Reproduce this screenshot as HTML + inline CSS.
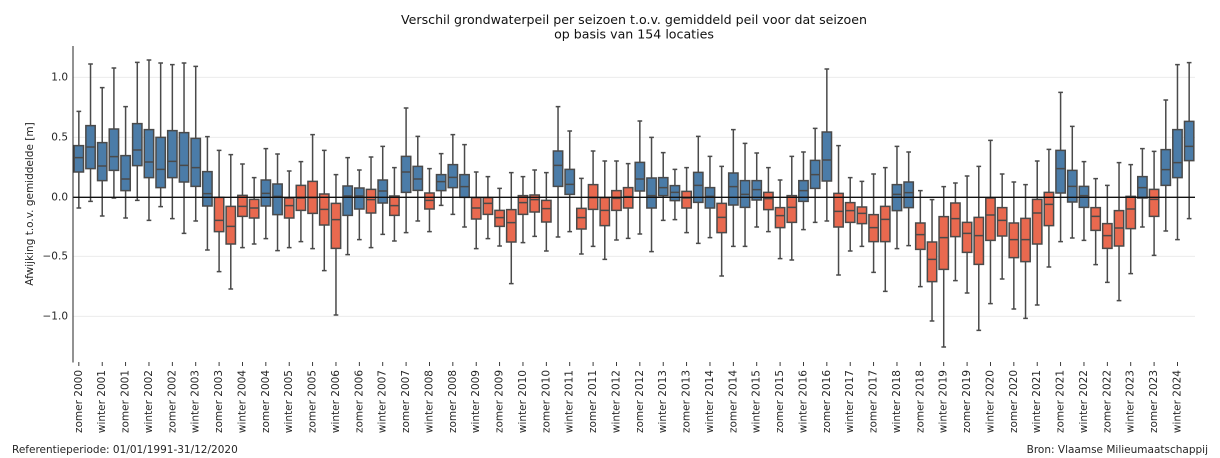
<!DOCTYPE html>
<html><head><meta charset="utf-8">
<style>
html,body{margin:0;padding:0;background:#fff;}
svg{display:block;}
text{font-family:"DejaVu Sans","Liberation Sans",sans-serif;fill:#262626;}
.bx{fill:#4b7ca8;stroke:#4a4a4a;stroke-width:1.5;vector-effect:non-scaling-stroke;}
.rx{fill:#e9694f;stroke:#4a4a4a;stroke-width:1.5;vector-effect:non-scaling-stroke;}
.ln{fill:none;stroke:#4a4a4a;stroke-width:1.5;vector-effect:non-scaling-stroke;}
</style></head><body>
<svg width="1220" height="458" viewBox="0 0 1220 458" xmlns="http://www.w3.org/2000/svg">
<rect width="1220" height="458" fill="#fff"/>
<!-- grid -->
<g stroke="#e8e8e8" stroke-width="0.9">
<line x1="73" x2="1195" y1="77.33" y2="77.33"/>
<line x1="73" x2="1195" y1="137.33" y2="137.33"/>
<line x1="73" x2="1195" y1="256.33" y2="256.33"/>
<line x1="73" x2="1195" y1="316.33" y2="316.33"/>
</g>
<!-- boxes: x in box index units, y in zoom units -->
<g transform="translate(73,44) scale(11.6875,0.333333)">
<path class="bx" d="M0.1 305H0.9V384H0.1Z M1.1 245H1.9V374H1.1Z M2.1 296H2.9V410H2.1Z M3.1 255H3.9V379H3.1Z M4.1 335H4.9V440H4.1Z M5.1 239H5.9V365H5.1Z M6.1 257H6.9V401H6.1Z M7.1 280H7.9V431H7.1Z M8.1 260H8.9V401H8.1Z M9.1 266H9.9V414H9.1Z M10.1 283H10.9V427H10.1Z M11.1 383H11.9V486H11.1Z M16.1 408H16.9V486H16.1Z M17.1 420H17.9V512H17.1Z M23.1 426H23.9V514H23.1Z M24.1 432H24.9V495H24.1Z M26.1 408H26.9V477H26.1Z M28.1 337H28.9V445H28.1Z M29.1 367H29.9V439H29.1Z M31.1 392H31.9V440H31.1Z M32.1 362H32.9V431H32.1Z M33.1 392H33.9V460H33.1Z M41.1 321H41.9V427H41.1Z M42.1 376H42.9V451H42.1Z M48.1 355H48.9V441H48.1Z M49.1 402H49.9V492H49.1Z M50.1 401H50.9V455H50.1Z M51.1 425H51.9V470H51.1Z M53.1 385H53.9V475H53.1Z M54.1 431H54.9V492H54.1Z M56.1 387H56.9V483H56.1Z M57.1 410H57.9V490H57.1Z M58.1 410H58.9V468H58.1Z M62.1 410H62.9V472H62.1Z M63.1 349H63.9V433H63.1Z M64.1 264H64.9V411H64.1Z M70.1 422H70.9V500H70.1Z M71.1 414H71.9V491H71.1Z M84.1 319H84.9V447H84.1Z M85.1 379H85.9V474H85.1Z M86.1 427H86.9V490H86.1Z M91.1 398H91.9V462H91.1Z M93.1 317H93.9V424H93.1Z M94.1 257H94.9V401H94.1Z M95.1 232H95.9V350H95.1Z"/>
<path class="rx" d="M12.1 460H12.9V563H12.1Z M13.1 487H13.9V600H13.1Z M14.1 454H14.9V517H14.1Z M15.1 466H15.9V522H15.1Z M18.1 462H18.9V522H18.1Z M19.1 424H19.9V499H19.1Z M20.1 412H20.9V508H20.1Z M21.1 450H21.9V543H21.1Z M22.1 478H22.9V613H22.1Z M25.1 436H25.9V507H25.1Z M27.1 456H27.9V514H27.1Z M30.1 447H30.9V495H30.1Z M34.1 461H34.9V525H34.1Z M35.1 461H35.9V511H35.1Z M36.1 499H36.9V547H36.1Z M37.1 497H37.9V594H37.1Z M38.1 455H38.9V511H38.1Z M39.1 453H39.9V504H39.1Z M40.1 469H40.9V534H40.1Z M43.1 493H43.9V555H43.1Z M44.1 422H44.9V496H44.1Z M45.1 461H45.9V545H45.1Z M46.1 440H46.9V499H46.1Z M47.1 431H47.9V492H47.1Z M52.1 442H52.9V492H52.1Z M55.1 478H55.9V566H55.1Z M59.1 445H59.9V497H59.1Z M60.1 491H60.9V551H60.1Z M61.1 455H61.9V535H61.1Z M65.1 448H65.9V549H65.1Z M66.1 476H66.9V535H66.1Z M67.1 489H67.9V539H67.1Z M68.1 512H68.9V593H68.1Z M69.1 487H69.9V593H69.1Z M72.1 537H72.9V616H72.1Z M73.1 594H73.9V713H73.1Z M74.1 518H74.9V676H74.1Z M75.1 477H75.9V578H75.1Z M76.1 535H76.9V625H76.1Z M77.1 520H77.9V661H77.1Z M78.1 462H78.9V589H78.1Z M79.1 491H79.9V576H79.1Z M80.1 537H80.9V641H80.1Z M81.1 523H81.9V653H81.1Z M82.1 466H82.9V600H82.1Z M83.1 445H83.9V545H83.1Z M87.1 491H87.9V559H87.1Z M88.1 539H88.9V613H88.1Z M89.1 500H89.9V606H89.1Z M90.1 457H90.9V554H90.1Z M92.1 436H92.9V517H92.1Z"/>
<path class="ln" d="
M0.5 202V305M0.5 384V492M0.3 202H0.7M0.3 492H0.7M0.1 341H0.9
M1.5 60V245M1.5 374V472M1.3 60H1.7M1.3 472H1.7M1.1 309H1.9
M2.5 131V296M2.5 410V516M2.3 131H2.7M2.3 516H2.7M2.1 366H2.9
M3.5 72V255M3.5 379V462M3.3 72H3.7M3.3 462H3.7M3.1 338H3.9
M4.5 188V335M4.5 440V522M4.3 188H4.7M4.3 522H4.7M4.1 405H4.9
M5.5 55V239M5.5 365V469M5.3 55H5.7M5.3 469H5.7M5.1 318H5.9
M6.5 48V257M6.5 401V529M6.3 48H6.7M6.3 529H6.7M6.1 354H6.9
M7.5 57V280M7.5 431V488M7.3 57H7.7M7.3 488H7.7M7.1 376H7.9
M8.5 62V260M8.5 401V524M8.3 62H8.7M8.3 524H8.7M8.1 352H8.9
M9.5 57V266M9.5 414V568M9.3 57H9.7M9.3 568H9.7M9.1 364H9.9
M10.5 67V283M10.5 427V531M10.3 67H10.7M10.3 531H10.7M10.1 371H10.9
M11.5 278V383M11.5 486V618M11.3 278H11.7M11.3 618H11.7M11.1 449H11.9
M12.5 319V460M12.5 563V683M12.3 319H12.7M12.3 683H12.7M12.1 529H12.9
M13.5 332V487M13.5 600V735M13.3 332H13.7M13.3 735H13.7M13.1 547H13.9
M14.5 360V454M14.5 517V611M14.3 360H14.7M14.3 611H14.7M14.1 487H14.9
M15.5 401V466M15.5 522V600M15.3 401H15.7M15.3 600H15.7M15.1 492H15.9
M16.5 314V408M16.5 486V584M16.3 314H16.7M16.3 584H16.7M16.1 448H16.9
M17.5 330V420M17.5 512V620M17.3 330H17.7M17.3 620H17.7M17.1 457H17.9
M18.5 381V462M18.5 522V611M18.3 381H18.7M18.3 611H18.7M18.1 485H18.9
M19.5 353V424M19.5 499V593M19.3 353H19.7M19.3 593H19.7M19.1 462H19.9
M20.5 272V412M20.5 508V614M20.3 272H20.7M20.3 614H20.7M20.1 461H20.9
M21.5 319V450M21.5 543V680M21.3 319H21.7M21.3 680H21.7M21.1 496H21.9
M22.5 392V478M22.5 613V813M22.3 392H22.7M22.3 813H22.7M22.1 527H22.9
M23.5 341V426M23.5 514V632M23.3 341H23.7M23.3 632H23.7M23.1 456H23.9
M24.5 378V432M24.5 495V587M24.3 378H24.7M24.3 587H24.7M24.1 456H24.9
M25.5 339V436M25.5 507V611M25.3 339H25.7M25.3 611H25.7M25.1 467H25.9
M26.5 307V408M26.5 477V571M26.3 307H26.7M26.3 571H26.7M26.1 441H26.9
M27.5 371V456M27.5 514V591M27.3 371H27.7M27.3 591H27.7M27.1 485H27.9
M28.5 192V337M28.5 445V566M28.3 192H28.7M28.3 566H28.7M28.1 384H28.9
M29.5 277V367M29.5 439V531M29.3 277H29.7M29.3 531H29.7M29.1 405H29.9
M30.5 374V447M30.5 495V563M30.3 374H30.7M30.3 563H30.7M30.1 469H30.9
M31.5 329V392M31.5 440V484M31.3 329H31.7M31.3 484H31.7M31.1 413H31.9
M32.5 272V362M32.5 431V511M32.3 272H32.7M32.3 511H32.7M32.1 400H32.9
M33.5 302V392M33.5 460V549M33.3 302H33.7M33.3 549H33.7M33.1 428H33.9
M34.5 384V461M34.5 525V614M34.3 384H34.7M34.3 614H34.7M34.1 492H34.9
M35.5 398V461M35.5 511V584M35.3 398H35.7M35.3 584H35.7M35.1 478H35.9
M36.5 433V499M36.5 547V606M36.3 433H36.7M36.3 606H36.7M36.1 521H36.9
M37.5 386V497M37.5 594V719M37.3 386H37.7M37.3 719H37.7M37.1 536H37.9
M38.5 398V455M38.5 511V596M38.3 398H38.7M38.3 596H38.7M38.1 476H38.9
M39.5 378V453M39.5 504V577M39.3 378H39.7M39.3 577H39.7M39.1 467H39.9
M40.5 386V469M40.5 534V621M40.3 386H40.7M40.3 621H40.7M40.1 494H40.9
M41.5 188V321M41.5 427V579M41.3 188H41.7M41.3 579H41.7M41.1 364H41.9
M42.5 261V376M42.5 451V563M42.3 261H42.7M42.3 563H42.7M42.1 421H42.9
M43.5 403V493M43.5 555V630M43.3 403H43.7M43.3 630H43.7M43.1 521H43.9
M44.5 321V422M44.5 496V607M44.3 321H44.7M44.3 607H44.7M44.1 461H44.9
M45.5 351V461M45.5 545V646M45.3 351H45.7M45.3 646H45.7M45.1 499H45.9
M46.5 351V440M46.5 499V588M46.3 351H46.7M46.3 588H46.7M46.1 463H46.9
M47.5 359V431M47.5 492V583M47.3 359H47.7M47.3 583H47.7M47.1 458H47.9
M48.5 231V355M48.5 441V570M48.3 231H48.7M48.3 570H48.7M48.1 405H48.9
M49.5 280V402M49.5 492V623M49.3 280H49.7M49.3 623H49.7M49.1 455H49.9
M50.5 326V401M50.5 455V529M50.3 326H50.7M50.3 529H50.7M50.1 431H50.9
M51.5 376V425M51.5 470V527M51.3 376H51.7M51.3 527H51.7M51.1 445H51.9
M52.5 371V442M52.5 492V566M52.3 371H52.7M52.3 566H52.7M52.1 462H52.9
M53.5 277V385M53.5 475V598M53.3 277H53.7M53.3 598H53.7M53.1 424H53.9
M54.5 337V431M54.5 492V581M54.3 337H54.7M54.3 581H54.7M54.1 457H54.9
M55.5 367V478M55.5 566V696M55.3 367H55.7M55.3 696H55.7M55.1 520H55.9
M56.5 257V387M56.5 483V607M56.3 257H56.7M56.3 607H56.7M56.1 428H56.9
M57.5 298V410M57.5 490V607M57.3 298H57.7M57.3 607H57.7M57.1 451H57.9
M58.5 327V410M58.5 468V549M58.3 327H58.7M58.3 549H58.7M58.1 437H58.9
M59.5 371V445M59.5 497V563M59.3 371H59.7M59.3 563H59.7M59.1 464H59.9
M60.5 408V491M60.5 551V644M60.3 408H60.7M60.3 644H60.7M60.1 515H60.9
M61.5 337V455M61.5 535V648M61.3 337H61.7M61.3 648H61.7M61.1 490H61.9
M62.5 324V410M62.5 472V557M62.3 324H62.7M62.3 557H62.7M62.1 440H62.9
M63.5 253V349M63.5 433V535M63.3 253H63.7M63.3 535H63.7M63.1 392H63.9
M64.5 75V264M64.5 411V531M64.3 75H64.7M64.3 531H64.7M64.1 348H64.9
M65.5 305V448M65.5 549V693M65.3 305H65.7M65.3 693H65.7M65.1 502H65.9
M66.5 401V476M66.5 535V621M66.3 401H66.7M66.3 621H66.7M66.1 500H66.9
M67.5 412V489M67.5 539V607M67.3 412H67.7M67.3 607H67.7M67.1 508H67.9
M68.5 390V512M68.5 593V685M68.3 390H68.7M68.3 685H68.7M68.1 551H68.9
M69.5 371V487M69.5 593V742M69.3 371H69.7M69.3 742H69.7M69.1 526H69.9
M70.5 307V422M70.5 500V614M70.3 307H70.7M70.3 614H70.7M70.1 451H70.9
M71.5 324V414M71.5 491V605M71.3 324H71.7M71.3 605H71.7M71.1 446H71.9
M72.5 440V537M72.5 616V728M72.3 440H72.7M72.3 728H72.7M72.1 572H72.9
M73.5 467V594M73.5 713V831M73.3 467H73.7M73.3 831H73.7M73.1 646H73.9
M74.5 428V518M74.5 676V909M74.3 428H74.7M74.3 909H74.7M74.1 581H74.9
M75.5 417V477M75.5 578V710M75.3 417H75.7M75.3 710H75.7M75.1 524H75.9
M76.5 396V535M76.5 625V747M76.3 396H76.7M76.3 747H76.7M76.1 568H76.9
M77.5 367V520M77.5 661V859M77.3 367H77.7M77.3 859H77.7M77.1 575H77.9
M78.5 289V462M78.5 589V779M78.3 289H78.7M78.3 779H78.7M78.1 513H78.9
M79.5 390V491M79.5 576V705M79.3 390H79.7M79.3 705H79.7M79.1 529H79.9
M80.5 414V537M80.5 641V795M80.3 414H80.7M80.3 795H80.7M80.1 587H80.9
M81.5 422V523M81.5 653V823M81.3 422H81.7M81.3 823H81.7M81.1 587H81.9
M82.5 351V466M82.5 600V783M82.3 351H82.7M82.3 783H82.7M82.1 507H82.9
M83.5 316V445M83.5 545V669M83.3 316H83.7M83.3 669H83.7M83.1 481H83.9
M84.5 145V319M84.5 447V593M84.3 145H84.7M84.3 593H84.7M84.1 374H84.9
M85.5 247V379M85.5 474V582M85.3 247H85.7M85.3 582H85.7M85.1 427H85.9
M86.5 353V427M86.5 490V589M86.3 353H86.7M86.3 589H86.7M86.1 455H86.9
M87.5 404V491M87.5 559V662M87.3 404H87.7M87.3 662H87.7M87.1 517H87.9
M88.5 424V539M88.5 613V715M88.3 424H88.7M88.3 715H88.7M88.1 575H88.9
M89.5 356V500M89.5 606V770M89.3 356H89.7M89.3 770H89.7M89.1 552H89.9
M90.5 362V457M90.5 554V689M90.3 362H90.7M90.3 689H90.7M90.1 495H90.9
M91.5 314V398M91.5 462V549M91.3 314H91.7M91.3 549H91.7M91.1 431H91.9
M92.5 322V436M92.5 517V634M92.3 322H92.7M92.3 634H92.7M92.1 466H92.9
M93.5 168V317M93.5 424V561M93.3 168H93.7M93.3 561H93.7M93.1 377H93.9
M94.5 62V257M94.5 401V587M94.3 62H94.7M94.3 587H94.7M94.1 356H94.9
M95.5 56V232M95.5 350V524M95.3 56H95.7M95.3 524H95.7M95.1 307H95.9"/>
</g>
<!-- zero line -->
<line x1="73" x2="1195" y1="197.33" y2="197.33" stroke="#111" stroke-width="1.3"/>
<!-- left spine -->
<line x1="73" x2="73" y1="46" y2="362.5" stroke="#262626" stroke-width="1"/>
<!-- y tick labels -->
<g font-size="10.5" text-anchor="end" dominant-baseline="central">
<text x="68" y="77.33">1.0</text>
<text x="68" y="137.33">0.5</text>
<text x="68" y="197.33">0.0</text>
<text x="68" y="256.33">−0.5</text>
<text x="68" y="316.33">−1.0</text>
</g>
<text font-size="10.5" text-anchor="middle" dominant-baseline="central" transform="translate(30,204) rotate(-90)">Afwijking t.o.v. gemiddelde [m]</text>
<!-- x ticks -->
<g stroke="#262626" stroke-width="0.9">
<path d="M78.84 362V366 M102.22 362V366 M125.59 362V366 M148.97 362V366 M172.34 362V366 M195.72 362V366 M219.09 362V366 M242.47 362V366 M265.84 362V366 M289.22 362V366 M312.59 362V366 M335.97 362V366 M359.34 362V366 M382.72 362V366 M406.09 362V366 M429.47 362V366 M452.84 362V366 M476.22 362V366 M499.59 362V366 M522.97 362V366 M546.34 362V366 M569.72 362V366 M593.09 362V366 M616.47 362V366 M639.84 362V366 M663.22 362V366 M686.59 362V366 M709.97 362V366 M733.34 362V366 M756.72 362V366 M780.09 362V366 M803.47 362V366 M826.84 362V366 M850.22 362V366 M873.59 362V366 M896.97 362V366 M920.34 362V366 M943.72 362V366 M967.09 362V366 M990.47 362V366 M1013.84 362V366 M1037.22 362V366 M1060.59 362V366 M1083.97 362V366 M1107.34 362V366 M1130.72 362V366 M1154.09 362V366 M1177.47 362V366"/>
</g>
<!-- x tick labels -->
<g font-size="10.5" text-anchor="end" dominant-baseline="central">
<text transform="translate(78.84,370) rotate(-90)">zomer 2000</text>
<text transform="translate(102.22,370) rotate(-90)">winter 2001</text>
<text transform="translate(125.59,370) rotate(-90)">zomer 2001</text>
<text transform="translate(148.97,370) rotate(-90)">winter 2002</text>
<text transform="translate(172.34,370) rotate(-90)">zomer 2002</text>
<text transform="translate(195.72,370) rotate(-90)">winter 2003</text>
<text transform="translate(219.09,370) rotate(-90)">zomer 2003</text>
<text transform="translate(242.47,370) rotate(-90)">winter 2004</text>
<text transform="translate(265.84,370) rotate(-90)">zomer 2004</text>
<text transform="translate(289.22,370) rotate(-90)">winter 2005</text>
<text transform="translate(312.59,370) rotate(-90)">zomer 2005</text>
<text transform="translate(335.97,370) rotate(-90)">winter 2006</text>
<text transform="translate(359.34,370) rotate(-90)">zomer 2006</text>
<text transform="translate(382.72,370) rotate(-90)">winter 2007</text>
<text transform="translate(406.09,370) rotate(-90)">zomer 2007</text>
<text transform="translate(429.47,370) rotate(-90)">winter 2008</text>
<text transform="translate(452.84,370) rotate(-90)">zomer 2008</text>
<text transform="translate(476.22,370) rotate(-90)">winter 2009</text>
<text transform="translate(499.59,370) rotate(-90)">zomer 2009</text>
<text transform="translate(522.97,370) rotate(-90)">winter 2010</text>
<text transform="translate(546.34,370) rotate(-90)">zomer 2010</text>
<text transform="translate(569.72,370) rotate(-90)">winter 2011</text>
<text transform="translate(593.09,370) rotate(-90)">zomer 2011</text>
<text transform="translate(616.47,370) rotate(-90)">winter 2012</text>
<text transform="translate(639.84,370) rotate(-90)">zomer 2012</text>
<text transform="translate(663.22,370) rotate(-90)">winter 2013</text>
<text transform="translate(686.59,370) rotate(-90)">zomer 2013</text>
<text transform="translate(709.97,370) rotate(-90)">winter 2014</text>
<text transform="translate(733.34,370) rotate(-90)">zomer 2014</text>
<text transform="translate(756.72,370) rotate(-90)">winter 2015</text>
<text transform="translate(780.09,370) rotate(-90)">zomer 2015</text>
<text transform="translate(803.47,370) rotate(-90)">winter 2016</text>
<text transform="translate(826.84,370) rotate(-90)">zomer 2016</text>
<text transform="translate(850.22,370) rotate(-90)">winter 2017</text>
<text transform="translate(873.59,370) rotate(-90)">zomer 2017</text>
<text transform="translate(896.97,370) rotate(-90)">winter 2018</text>
<text transform="translate(920.34,370) rotate(-90)">zomer 2018</text>
<text transform="translate(943.72,370) rotate(-90)">winter 2019</text>
<text transform="translate(967.09,370) rotate(-90)">zomer 2019</text>
<text transform="translate(990.47,370) rotate(-90)">winter 2020</text>
<text transform="translate(1013.84,370) rotate(-90)">zomer 2020</text>
<text transform="translate(1037.22,370) rotate(-90)">winter 2021</text>
<text transform="translate(1060.59,370) rotate(-90)">zomer 2021</text>
<text transform="translate(1083.97,370) rotate(-90)">winter 2022</text>
<text transform="translate(1107.34,370) rotate(-90)">zomer 2022</text>
<text transform="translate(1130.72,370) rotate(-90)">winter 2023</text>
<text transform="translate(1154.09,370) rotate(-90)">zomer 2023</text>
<text transform="translate(1177.47,370) rotate(-90)">winter 2024</text>
</g>
<!-- title -->
<g font-size="12.6" text-anchor="middle">
<text x="634" y="24" style="fill:#111">Verschil grondwaterpeil per seizoen t.o.v. gemiddeld peil voor dat seizoen</text>
<text x="634" y="38.7" style="fill:#111">op basis van 154 locaties</text>
</g>
<!-- footer -->
<text x="12" y="453" font-size="10.5">Referentieperiode: 01/01/1991-31/12/2020</text>
<text x="1208" y="453" font-size="10.5" text-anchor="end">Bron: Vlaamse Milieumaatschappij</text>
</svg>
</body></html>
